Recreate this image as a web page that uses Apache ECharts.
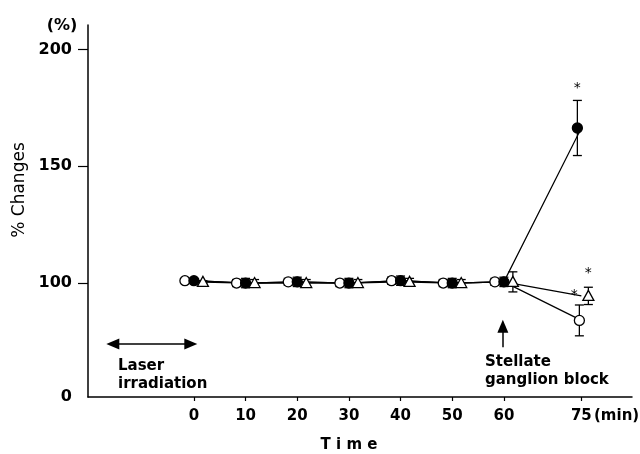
<!DOCTYPE html>
<html><head><meta charset="utf-8">
<script src="https://cdn.jsdelivr.net/npm/echarts@6/dist/echarts.min.js"></script>
<style>html,body{margin:0;padding:0;background:#fff}#c{width:640px;height:454px}</style>
</head><body><div id="c"></div>
<script>
// ---- data ----
const times = [0, 10, 20, 30, 40, 50, 60, 75];
const xTickLabels = [0, 10, 20, 30, 40, 50, 60, 75];
const yTickLabels = [100, 150, 200];
const openMean   = [101, 100, 100.5, 100, 101, 100, 100.5, 84];
const openErr    = [0.5, 1.5, 1.5, 1.5, 1.5, 1.5, 1.5, 6.6];
const openSig    = [0, 0, 0, 0, 0, 0, 0, 1];
const filledMean = [101, 100, 100.5, 100, 101, 100, 100.5, 166.4];
const filledErr  = [0.5, 2, 2, 2, 2, 2, 2, 11.8];
const filledSig  = [0, 0, 0, 0, 0, 0, 0, 1];
const triMean    = [100.5, 100, 100, 100, 100.5, 100, 100.5, 94.5];
const triErr     = [0.5, 1.5, 1.5, 1.5, 1.5, 1.5, 4.3, 3.7];
const triSig     = [0, 0, 0, 0, 0, 0, 0, 1];

const FONT = 'DejaVu Sans';
const Y_MIN = 51.2, Y_MAX = 210.5;

const groups = [
  {mean: openMean, err: openErr, sig: openSig, kind: 'circle', fill: '#fff', dx: -9, dxLast: -2, star: [-5, -3], z: 3},
  {mean: filledMean, err: filledErr, sig: filledSig, kind: 'circle', fill: '#000', dx: 0, dxLast: -4, star: [0, -5], z: 4},
  {mean: triMean, err: triErr, sig: triSig, kind: 'triangle', fill: '#fff', dx: 9, dxLast: 7, star: [0, -7], z: 5}
];

function makeRender(g) {
  return function (params, api) {
    const t = api.value(0), y = api.value(1), e = api.value(2), s = api.value(3);
    const last = params.dataIndex === times.length - 1;
    const dx = last ? g.dxLast : g.dx;
    const p = api.coord([t, y]);
    const cx = p[0] + dx, cy = p[1];
    const top = api.coord([t, y + e])[1];
    const bot = api.coord([t, y - e])[1];
    const ls = {stroke: '#000', lineWidth: 1.3};
    const ch = [
      {type: 'line', shape: {x1: cx, y1: top, x2: cx, y2: bot}, style: ls},
      {type: 'line', shape: {x1: cx - 4.5, y1: top, x2: cx + 4.5, y2: top}, style: ls},
      {type: 'line', shape: {x1: cx - 4.5, y1: bot, x2: cx + 4.5, y2: bot}, style: ls}
    ];
    if (g.kind === 'circle') {
      ch.push({type: 'circle', shape: {cx: cx, cy: cy, r: 5}, style: {fill: g.fill, stroke: '#000', lineWidth: 1.3}});
    } else {
      ch.push({type: 'polygon', shape: {points: [[cx, cy - 5.5], [cx + 5.5, cy + 4.5], [cx - 5.5, cy + 4.5]]},
        style: {fill: g.fill, stroke: '#000', lineWidth: 1.3}});
    }
    if (s) {
      ch.push({type: 'text', style: {text: '*', x: cx + g.star[0], y: top + g.star[1],
        font: '14px ' + FONT, fill: '#000', align: 'center', verticalAlign: 'bottom'}});
    }
    return {type: 'group', children: ch};
  };
}

const series = [];
groups.forEach(g => {
  series.push({
    type: 'line', data: times.map((t, i) => [t, g.mean[i]]), showSymbol: false,
    lineStyle: {color: '#000', width: 1.2}, z: 2, silent: true, animation: false
  });
});
groups.forEach(g => {
  series.push({
    type: 'custom', data: times.map((t, i) => [t, g.mean[i], g.err[i], g.sig[i]]),
    renderItem: makeRender(g), z: g.z, clip: false, animation: false, silent: true
  });
});
// annotation arrows
series.push({
  type: 'line', data: [], silent: true, animation: false,
  markLine: {
    silent: true, animation: false, label: {show: false},
    lineStyle: {color: '#000', width: 1.5, type: 'solid'},
    symbol: ['triangle', 'triangle'], symbolSize: [11, 13],
    data: [
      [{coord: [-15.7, 73.9]}, {coord: [-0.6, 73.9]}],
      [{coord: [59.8, 72.5], symbol: 'none'}, {coord: [59.8, 81.5], symbol: 'triangle'}]
    ]
  }
});

const chart = echarts.init(document.getElementById('c'));
chart.setOption({
  backgroundColor: '#fff',
  animation: false,
  grid: {left: 88, right: 8, top: 25, bottom: 57},
  xAxis: {
    type: 'value', min: -20.5, max: 84.8,
    axisLine: {onZero: false, lineStyle: {color: '#000', width: 1.5}},
    splitLine: {show: false},
    axisTick: {show: true, length: 4, customValues: xTickLabels, lineStyle: {color: '#000', width: 1.2}},
    axisLabel: {customValues: xTickLabels, color: '#000', fontFamily: FONT, fontWeight: 'bold', fontSize: 15, margin: 12}
  },
  yAxis: {
    type: 'value', min: Y_MIN, max: Y_MAX,
    axisLine: {show: true, onZero: false, lineStyle: {color: '#000', width: 1.5}},
    splitLine: {show: false},
    axisTick: {show: true, length: 10, customValues: yTickLabels, lineStyle: {color: '#000', width: 1.2}},
    axisLabel: {customValues: [Y_MIN].concat(yTickLabels), color: '#000', fontFamily: FONT, fontWeight: 'bold', fontSize: 16, margin: 16,
      formatter: v => (v === Y_MIN ? '0' : String(v))}
  },
  graphic: [
    {type: 'text', x: 62, y: 26, style: {text: '(%)', font: 'bold 16px ' + FONT, fill: '#000', align: 'center', verticalAlign: 'middle'}},
    {type: 'text', x: 20, y: 190, rotation: Math.PI / 2, style: {text: '% Changes', font: '17px ' + FONT, fill: '#000', align: 'center', verticalAlign: 'middle'}},
    {type: 'text', x: 349, y: 445, style: {text: 'T i m e', font: 'bold 15px ' + FONT, fill: '#000', align: 'center', verticalAlign: 'middle'}},
    {type: 'text', x: 594, y: 416, style: {text: '(min)', font: 'bold 15px ' + FONT, fill: '#000', align: 'left', verticalAlign: 'middle'}},
    {type: 'text', x: 118, y: 366, style: {text: 'Laser', font: 'bold 15px ' + FONT, fill: '#000', align: 'left', verticalAlign: 'middle'}},
    {type: 'text', x: 118, y: 384, style: {text: 'irradiation', font: 'bold 15px ' + FONT, fill: '#000', align: 'left', verticalAlign: 'middle'}},
    {type: 'text', x: 485, y: 362, style: {text: 'Stellate', font: 'bold 15px ' + FONT, fill: '#000', align: 'left', verticalAlign: 'middle'}},
    {type: 'text', x: 485, y: 380, style: {text: 'ganglion block', font: 'bold 15px ' + FONT, fill: '#000', align: 'left', verticalAlign: 'middle'}}
  ],
  series: series
});
</script>
</body></html>
